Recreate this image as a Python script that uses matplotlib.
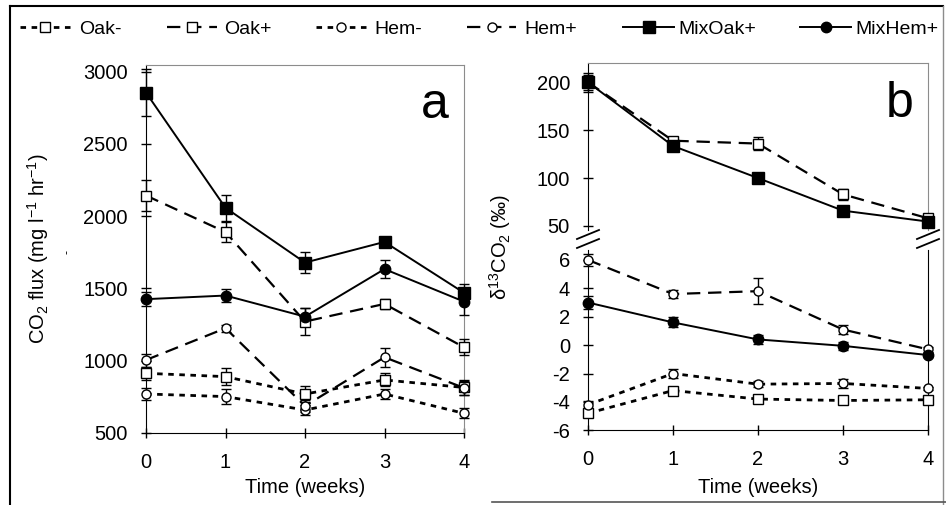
import matplotlib
matplotlib.use('Agg')
import matplotlib.pyplot as plt
from matplotlib.lines import Line2D

plt.rcParams['font.family'] = ['Liberation Sans', 'DejaVu Sans']
plt.rcParams['mathtext.fontset'] = 'custom'
plt.rcParams['mathtext.rm'] = 'Liberation Sans'
plt.rcParams['mathtext.it'] = 'Liberation Sans:italic'
plt.rcParams['axes.unicode_minus'] = False

weeks = [0, 1, 2, 3, 4]
names = ['Oak-', 'Oak+', 'Hem-', 'Hem+', 'MixOak+', 'MixHem+']

# panel a : CO2 flux (mg l-1 hr-1)
flux_oak_minus = [913, 890, 770, 867, 815]
flux_oak_plus = [2143, 1890, 1271, 1393, 1093]
flux_hem_minus = [770, 752, 659, 770, 636]
flux_hem_plus = [1005, 1225, 687, 1024, 812]
flux_mixoak = [2855, 2058, 1679, 1822, 1470]
flux_mixhem = [1426, 1451, 1305, 1634, 1409]

err_oak_minus = [45, 58, 55, 45, 50]
err_oak_plus = [110, 70, 95, 35, 55]
err_hem_minus = [40, 50, 35, 35, 35]
err_hem_plus = [45, 25, 40, 64, 50]
err_mixoak = [160, 90, 75, 25, 60]
err_mixhem = [50, 45, 60, 60, 95]

# panel b, upper part : d13CO2 of labelled oak
d13_oak_plus = [200, 139, 136, 83, 58]
d13_mixoak = [200, 133.5, 100, 66, 54.6]
d13err_oak_plus = [8, 4, 7, 6, 4]
d13err_mixoak = [10, 3, 2, 2, 3]

# panel b, lower part
d13_oak_minus = [-4.8, -3.2, -3.8, -3.9, -3.85]
d13_hem_minus = [-4.2, -2.0, -2.75, -2.7, -3.05]
d13_hem_plus = [6.0, 3.6, 3.8, 1.1, -0.3]
d13_mixhem = [3.0, 1.6, 0.4, -0.05, -0.7]
d13err_oak_minus = [0.25, 0.2, 0.2, 0.2, 0.2]
d13err_hem_minus = [0.25, 0.3, 0.2, 0.3, 0.1]
d13err_hem_plus = [0.4, 0.3, 0.9, 0.3, 0.2]
d13err_mixhem = [0.45, 0.35, 0.3, 0.3, 0.15]

dotted = (0, (2, 2))
longdash = (0, (6, 3.5))
styles = {
    'Oak-': dict(ls=dotted, lw=2.0, marker='s', mfc='white', ms=6.5),
    'Oak+': dict(ls=longdash, lw=1.6, marker='s', mfc='white', ms=6.5),
    'Hem-': dict(ls=dotted, lw=2.0, marker='o', mfc='white', ms=6.5),
    'Hem+': dict(ls=longdash, lw=1.6, marker='o', mfc='white', ms=6.5),
    'MixOak+': dict(ls='-', lw=1.4, marker='s', mfc='black', ms=8),
    'MixHem+': dict(ls='-', lw=1.4, marker='o', mfc='black', ms=7.5),
}

W, H = 946, 505
FS = 14.5


def fx(px):
    return px / W


def fy(py):
    return 1 - py / H


def series(ax, name, y, err):
    st = styles[name]
    cont = ax.errorbar(weeks, y, yerr=err, color='black', ls=st['ls'], lw=st['lw'],
                       marker=st['marker'], mfc=st['mfc'], mec='black', mew=1,
                       ms=st['ms'], ecolor='black', elinewidth=1, capsize=3.5,
                       capthick=1, zorder=3)
    for art in cont.get_children():
        art.set_clip_on(False)


def style_ax(ax):
    ax.tick_params(direction='inout', length=7, width=1, labelsize=FS, colors='black')
    for s in ['top', 'right']:
        ax.spines[s].set_color('#8c8c8c')
    for s in ['left', 'bottom']:
        ax.spines[s].set_color('black')


fig = plt.figure(figsize=(W / 100, H / 100), dpi=100)

# ---- panel a
ax_a = fig.add_axes([fx(146), fy(433), fx(464) - fx(146), fy(65) - fy(433)])
series(ax_a, 'Oak-', flux_oak_minus, err_oak_minus)
series(ax_a, 'Oak+', flux_oak_plus, err_oak_plus)
series(ax_a, 'Hem-', flux_hem_minus, err_hem_minus)
series(ax_a, 'Hem+', flux_hem_plus, err_hem_plus)
series(ax_a, 'MixOak+', flux_mixoak, err_mixoak)
series(ax_a, 'MixHem+', flux_mixhem, err_mixhem)
ax_a.set_xlim(0, 4)
ax_a.set_ylim(500, 3046)
ax_a.set_xticks(weeks)
ax_a.set_yticks([500, 1000, 1500, 2000, 2500, 3000])
style_ax(ax_a)
ax_a.tick_params(axis='y', pad=9.5)
ax_a.tick_params(axis='x', pad=11)
ax_a.set_xlabel('Time (weeks)', fontsize=FS)
ax_a.xaxis.set_label_coords(0.5, -0.122)
ax_a.set_ylabel(r'CO$_\mathregular{2}$ flux (mg l$^\mathregular{-1}$ hr$^\mathregular{-1}$)', fontsize=FS)
ax_a.yaxis.set_label_coords(-0.299, 0.5)

# ---- panel b upper
ax_bu = fig.add_axes([fx(588), fy(230), fx(928) - fx(588), fy(63) - fy(230)])
series(ax_bu, 'Oak+', d13_oak_plus, d13err_oak_plus)
series(ax_bu, 'MixOak+', d13_mixoak, d13err_mixoak)
ax_bu.set_xlim(0, 4)
ax_bu.set_ylim(45.8, 220.1)
ax_bu.set_yticks([50, 100, 150, 200])
style_ax(ax_bu)
ax_bu.spines['bottom'].set_visible(False)
ax_bu.tick_params(axis='x', bottom=False, labelbottom=False)
ax_bu.tick_params(axis='y', pad=9.5)

# ---- panel b lower
ax_bl = fig.add_axes([fx(588), fy(430.3), fx(928) - fx(588), fy(250) - fy(430.3)])
series(ax_bl, 'Oak-', d13_oak_minus, d13err_oak_minus)
series(ax_bl, 'Hem-', d13_hem_minus, d13err_hem_minus)
series(ax_bl, 'Hem+', d13_hem_plus, d13err_hem_plus)
series(ax_bl, 'MixHem+', d13_mixhem, d13err_mixhem)
ax_bl.set_xlim(0, 4)
ax_bl.set_ylim(-6, 6.7)
ax_bl.set_xticks(weeks)
ax_bl.set_yticks([-6, -4, -2, 0, 2, 4, 6])
style_ax(ax_bl)
ax_bl.spines['top'].set_visible(False)
ax_bl.spines['right'].set_color('black')
ax_bl.tick_params(axis='y', pad=9.5)
ax_bl.tick_params(axis='x', pad=11)
ax_bl.set_xlabel('Time (weeks)', fontsize=FS)
ax_bl.xaxis.set_label_coords(0.5, -0.267)

fig.text(fx(513), fy(247), r'δ$^\mathregular{13}$CO$_\mathregular{2}$ (‰)', rotation=90,
         ha='right', va='center', fontsize=FS)

# axis break marks
for xc in [588, 928]:
    for yc in [234.5, 243.5]:
        fig.add_artist(Line2D([fx(xc - 11), fx(xc + 11)], [fy(yc + 4.5), fy(yc - 4.5)],
                              color='black', lw=1.3))

# panel letters
fig.text(fx(435), fy(118), 'a', fontsize=36, ha='center', va='baseline')
fig.text(fx(900), fy(117), 'b', fontsize=36, ha='center', va='baseline')
fig.text(fx(68), fy(252), '-', fontsize=9, rotation=90, ha='center', va='center')

# legend entries (handle start, handle end, text start in px)
leg_pos = {
    'Oak-': (20, 70, 79),
    'Oak+': (167, 217, 224),
    'Hem-': (316, 366, 374),
    'Hem+': (467, 516, 524),
    'MixOak+': (623, 674, 678),
    'MixHem+': (800, 851, 855),
}
leg_fs = 14
em = leg_fs * 100 / 72
for name in names:
    st = styles[name]
    x0, x1, xt = leg_pos[name]
    h = Line2D([], [], color='black', ls=st['ls'], lw=st['lw'], marker=st['marker'],
               mfc=st['mfc'], mec='black', ms=st['ms'])
    fig.legend(handles=[h], labels=[name], loc='center left',
               bbox_to_anchor=(fx(x0), fy(29.5)), frameon=False, numpoints=1,
               handlelength=(x1 - x0) / em, handletextpad=(xt - x1) / em,
               borderpad=0, borderaxespad=0, fontsize=leg_fs)

# outer frame pieces
fig.add_artist(Line2D([fx(10), fx(943)], [fy(6), fy(6)], color='black', lw=1.5))
fig.add_artist(Line2D([fx(10), fx(10)], [fy(6), fy(505)], color='black', lw=1.5))
fig.add_artist(Line2D([fx(943), fx(943)], [fy(6), fy(505)], color='#8c8c8c', lw=1))
fig.add_artist(Line2D([fx(492), fx(946)], [fy(502), fy(502)], color='#555555', lw=1.2))

fig.savefig('out.png', dpi=100)
